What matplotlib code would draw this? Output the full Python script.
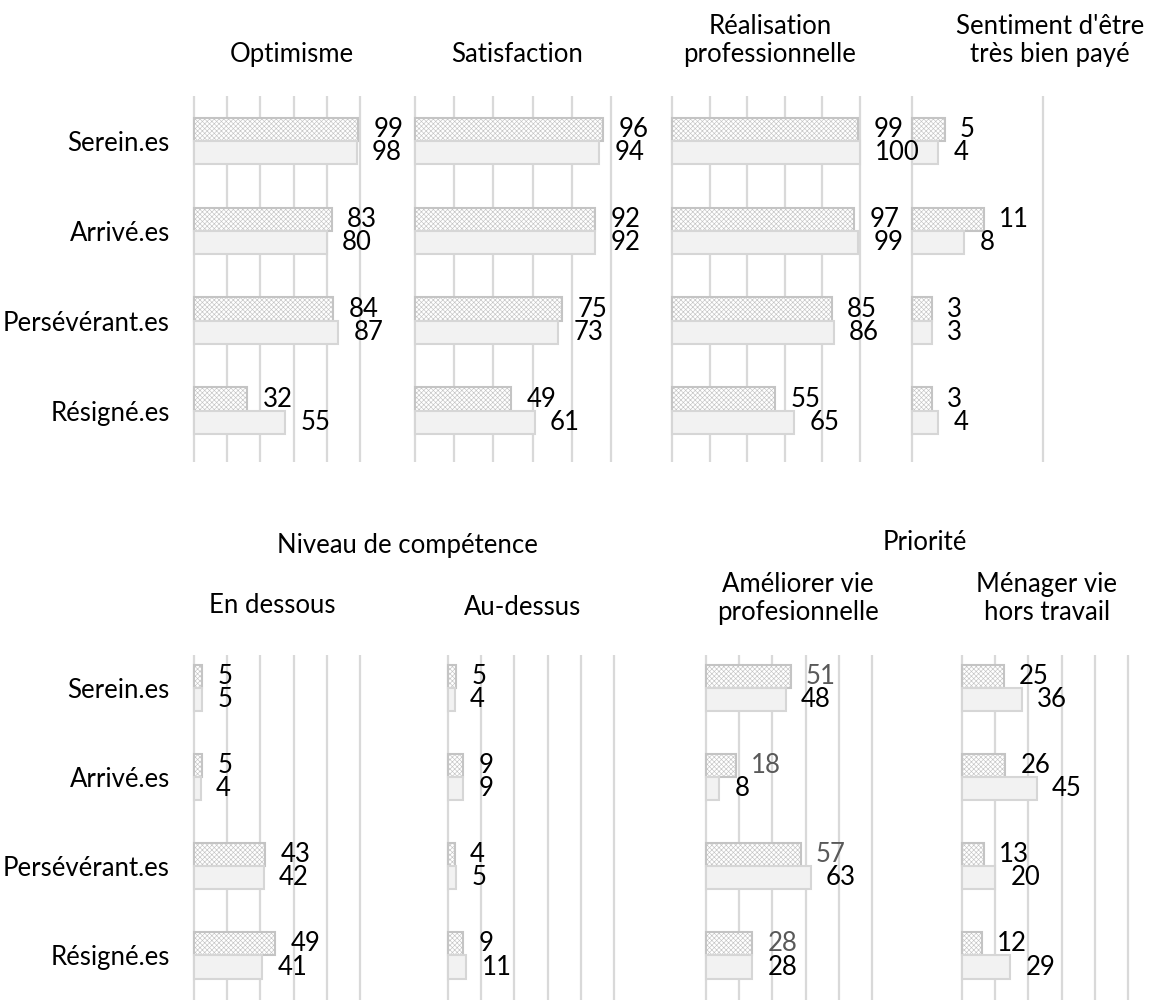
import matplotlib
matplotlib.use("Agg")
import matplotlib.pyplot as plt

plt.rcParams['font.family'] = ['Lato', 'DejaVu Sans']
plt.rcParams['hatch.linewidth'] = 0.45

categories = ['Serein.es', 'Arrivé.es', 'Persévérant.es', 'Résigné.es']

# top row
optimisme_a = [99, 83, 84, 32]
optimisme_b = [98, 80, 87, 55]
satisfaction_a = [96, 92, 75, 49]
satisfaction_b = [94, 92, 73, 61]
realisation_a = [99, 97, 85, 55]
realisation_b = [100, 99, 86, 65]
paye_a = [5, 11, 3, 3]
paye_b = [4, 8, 3, 4]

# bottom row
dessous_a = [5, 5, 43, 49]
dessous_b = [5, 4, 42, 41]
dessus_a = [5, 9, 4, 9]
dessus_b = [4, 9, 5, 11]
ameliorer_a = [51, 18, 57, 28]
ameliorer_b = [48, 8, 63, 28]
menager_a = [25, 26, 13, 12]
menager_b = [36, 45, 20, 29]

W, H = 1161, 1002
fig = plt.figure(figsize=(W / 100, H / 100), dpi=100)

FS = 18.5
GRID = '#d9d9d9'
BAR_H = 0.26


def make_panel(x0, ppu, xmax, ytop, ybot, ylim, a_vals, b_vals, z, cat_labels=False, a_color='black'):
    pad = 2
    left = x0 - pad
    right = x0 + xmax * ppu + pad
    ax = fig.add_axes([left / W, 1 - ybot / H, (right - left) / W, (ybot - ytop) / H])
    ax.set_zorder(z)  # labels of a panel stay above the next panel's bars
    ax.patch.set_visible(False)
    ax.set_xlim(-pad / ppu, xmax + pad / ppu)
    ax.set_ylim(*ylim)
    ax.set_xticks(range(0, xmax + 1, 20))
    ax.xaxis.grid(True, color=GRID, lw=1.6)
    ax.set_axisbelow(True)
    ax.tick_params(axis='x', length=0, labelbottom=False)
    for s in ax.spines.values():
        s.set_visible(False)
    ys = list(range(len(categories)))
    ya = [y - BAR_H / 2 for y in ys]
    yb = [y + BAR_H / 2 for y in ys]
    ax.barh(ya, a_vals, height=BAR_H, facecolor='white', edgecolor='#c4c4c4',
            hatch='xxxxxxx', lw=1.5)
    ax.barh(yb, b_vals, height=BAR_H, facecolor='#f2f2f2', edgecolor='#d6d6d6', lw=1.5)
    for y, v in zip(ya, a_vals):
        ax.annotate(str(v), (v, y), xytext=(11, 0), textcoords='offset points',
                    ha='left', va='center', fontsize=FS, color=a_color)
    for y, v in zip(yb, b_vals):
        ax.annotate(str(v), (v, y), xytext=(11, 0), textcoords='offset points',
                    ha='left', va='center', fontsize=FS, color='black')
    if cat_labels:
        ax.set_yticks(ys, categories, fontsize=FS)
        ax.tick_params(axis='y', length=0, pad=16)
    else:
        ax.set_yticks([])
    return ax


top_ylim = (3.57, -0.5)
make_panel(194, 1.66, 100, 96, 462, top_ylim, optimisme_a, optimisme_b, 4, cat_labels=True)
make_panel(415, 1.96, 100, 96, 462, top_ylim, satisfaction_a, satisfaction_b, 3)
make_panel(672, 1.88, 100, 96, 462, top_ylim, realisation_a, realisation_b, 2)
make_panel(912, 6.55, 20, 96, 462, top_ylim, paye_a, paye_b, 1)

bot_ylim = (3.5, -0.37)
make_panel(194, 1.66, 100, 655, 1000, bot_ylim, dessous_a, dessous_b, 4, cat_labels=True)
make_panel(448, 1.66, 100, 655, 1000, bot_ylim, dessus_a, dessus_b, 3)
make_panel(706, 1.66, 100, 655, 1000, bot_ylim, ameliorer_a, ameliorer_b, 2, a_color='#595959')
make_panel(962, 1.66, 100, 655, 1000, bot_ylim, menager_a, menager_b, 1)


def title(x, y, s):
    fig.text(x / W, 1 - y / H, s, ha='center', va='bottom', fontsize=FS,
             linespacing=1.15)


title(292, 67, 'Optimisme')
title(517, 67, 'Satisfaction')
title(770, 67, 'Réalisation\nprofessionnelle')
title(1050, 67, "Sentiment d'être\ntrès bien payé")

title(407, 558, 'Niveau de compétence')
title(272, 618, 'En dessous')
title(523, 620, 'Au-dessus')
title(925, 555, 'Priorité')
title(798, 625, 'Améliorer vie\nprofesionnelle')
title(1047, 625, 'Ménager vie\nhors travail')

fig.savefig('out.png', dpi=100)
